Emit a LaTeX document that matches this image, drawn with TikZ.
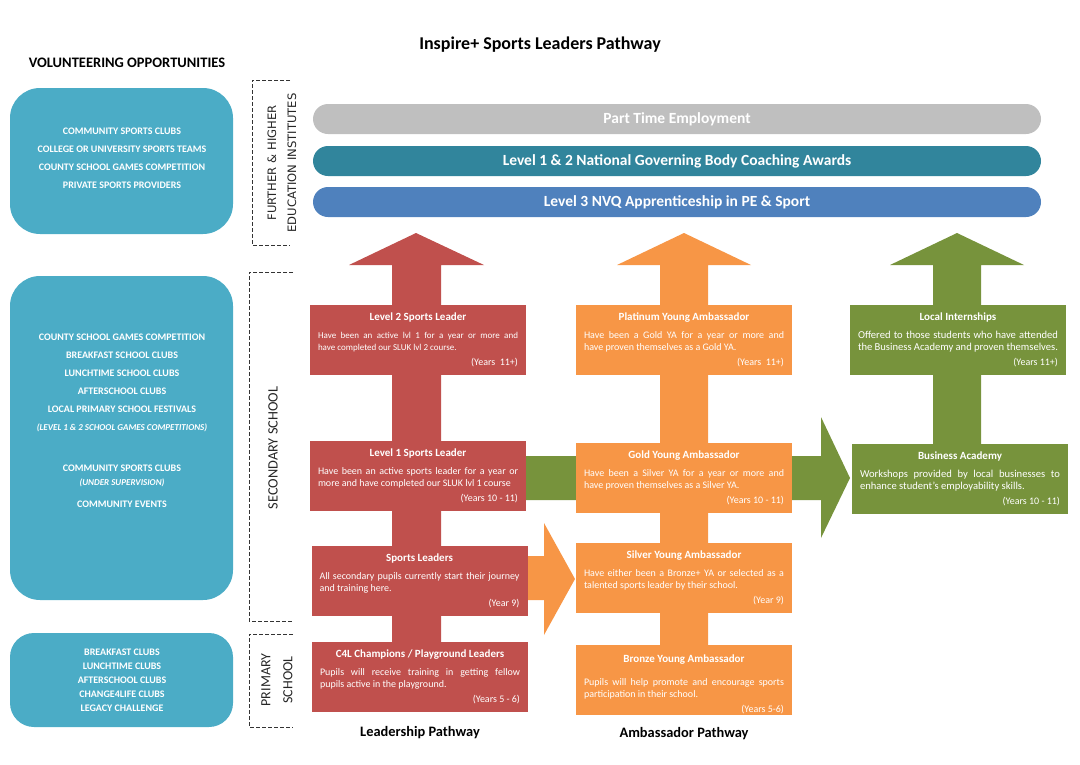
\documentclass[tikz,border=0pt]{standalone}
\usepackage{fontspec}
\setmainfont{Carlito}
\newfontfamily\widefont{DejaVu Sans}
\usetikzlibrary{positioning}
\definecolor{sky1}{HTML}{4BACC6}
\definecolor{grey1}{HTML}{BFBFBF}
\definecolor{teal1}{HTML}{31859C}
\definecolor{blue1}{HTML}{4F81BD}
\definecolor{red1}{HTML}{C0504D}
\definecolor{orange1}{HTML}{F79646}
\definecolor{green1}{HTML}{77933C}
\setlength{\parindent}{0pt}
\newcommand{\stagetext}[3]{%
  {\centering\bfseries\fontsize{11}{12}\selectfont #1\par}\vspace{6pt}%
  #2\par\vspace{3pt}%
  {\raggedleft #3\par}}

\begin{document}
\begin{tikzpicture}[
    x=1pt, y=-1pt,
    volbox/.style={rectangle, rounded corners=30pt, fill=sky1, minimum width=223pt},
    voltext/.style={align=center, text=white, inner sep=0pt, font=\bfseries\fontsize{10}{18}\selectfont},
    bar/.style={rectangle, rounded corners=15pt, fill=#1, minimum width=728pt, minimum height=30pt,
      text=white, font=\bfseries\fontsize{15.5}{18}\selectfont},
    stagebox/.style={rectangle, fill=#1, text=white, minimum width=216pt, minimum height=70pt,
      text width=200pt, inner xsep=8pt, inner ysep=0pt, align=justify,
      font=\fontsize{10}{12}\selectfont},
    sidelabel/.style={rotate=90, align=center, text=black!85, font=\fontsize{14.3}{20}\selectfont},
    bracket/.style={dash pattern=on 4pt off 2pt, line width=0.9pt, black!80},
    pathlabel/.style={font=\bfseries\fontsize{14.4}{16}\selectfont, inner sep=0pt},
  ]
  \useasboundingbox (0,0) rectangle (1080,764);

  % Titles
  \node[font=\bfseries\fontsize{18}{20}\selectfont] (title) at (540,45) {Inspire+ Sports Leaders Pathway};
  \node[font=\bfseries\fontsize{14.5}{16}\selectfont] (voltitle) at (127,63) {VOLUNTEERING OPPORTUNITIES};

  % Volunteering boxes
  \node[volbox, minimum height=146pt] (vol1) at (121.5,161) {};
  \node[voltext] (voltext1) at (122,158) {COMMUNITY SPORTS CLUBS\\COLLEGE OR UNIVERSITY SPORTS TEAMS\\COUNTY SCHOOL GAMES COMPETITION\\PRIVATE SPORTS PROVIDERS};
  \node[volbox, minimum height=324pt] (vol2) at (121.5,438) {};
  \node[voltext] (voltext2) at (122,421) {COUNTY SCHOOL GAMES COMPETITION\\BREAKFAST SCHOOL CLUBS\\LUNCHTIME SCHOOL CLUBS\\AFTERSCHOOL CLUBS\\LOCAL PRIMARY SCHOOL FESTIVALS\\{\itshape\fontsize{9}{18}\selectfont (LEVEL 1 \& 2 SCHOOL GAMES COMPETITIONS)}\\[23pt]COMMUNITY SPORTS CLUBS\\[-4pt]{\itshape\fontsize{9}{18}\selectfont (UNDER SUPERVISION)}\\[4pt]COMMUNITY EVENTS};
  \node[volbox, rounded corners=24pt, minimum height=94pt] (vol3) at (121.5,680) {};
  \node[voltext, font=\bfseries\fontsize{10}{14}\selectfont] (voltext3) at (122,680) {BREAKFAST CLUBS\\LUNCHTIME CLUBS\\AFTERSCHOOL CLUBS\\CHANGE4LIFE CLUBS\\LEGACY CHALLENGE};

  % Stage brackets
  \draw[bracket] (290,80) -| (252,245) -- (290,245);
  \draw[bracket] (293,272) -| (249,621) -- (293,621);
  \draw[bracket] (293,634) -| (249,727) -- (293,727);
  \node[sidelabel, font=\widefont\fontsize{11.6}{20}\selectfont] (further) at (282,163) {FURTHER \& HIGHER\\EDUCATION INSTITUTES};
  \node[sidelabel] (secondary) at (273,448) {SECONDARY SCHOOL};
  \node[sidelabel, font=\fontsize{14}{22}\selectfont] (primary) at (277,680) {PRIMARY\\SCHOOL};

  % Top bars
  \node[bar=grey1] (parttime) at (677,119) {Part Time Employment};
  \node[bar=teal1] (ngb) at (677,161) {Level 1 \& 2 National Governing Body Coaching Awards};
  \node[bar=blue1] (nvq) at (677,202) {Level 3 NVQ Apprenticeship in PE \& Sport};

  % Big arrows
  \fill[red1] (416,233) -- (484,265) -- (441,265) -- (441,650) -- (392,650) -- (392,265) -- (349,265) -- cycle;
  \fill[orange1] (684,233) -- (751,265) -- (708,265) -- (708,650) -- (660,650) -- (660,265) -- (617,265) -- cycle;
  \fill[green1] (957,233) -- (1024,265) -- (981,265) -- (981,450) -- (933,450) -- (933,265) -- (890,265) -- cycle;
  \fill[green1] (520,456) -- (821,456) -- (821,417) -- (850,478) -- (821,538) -- (821,500) -- (520,500) -- cycle;
  \fill[orange1] (520,556) -- (544,556) -- (544,523) -- (575,579) -- (544,635) -- (544,600) -- (520,600) -- cycle;

  % Leadership pathway
  \node[stagebox=red1] (lvl2) at (418,339.5) {\stagetext{Level 2 Sports Leader}{{\fontsize{9}{12}\selectfont Have been an active lvl 1 for a year or more and\linebreak have completed our SLUK lvl 2 course.}}{(Years~~11+)}};
  \node[stagebox=red1] (lvl1) at (418,475.5) {\stagetext{Level 1 Sports Leader}{Have been an active sports leader for a year or\linebreak more and have completed our SLUK lvl 1 course}{(Years 10 - 11)}};
  \node[stagebox=red1] (leaders) at (419.5,580.5) {\stagetext{Sports Leaders}{All secondary pupils currently start their journey\linebreak and training here.}{(Year 9)}};
  \node[stagebox=red1] (c4l) at (420,676.5) {\stagetext{C4L Champions / Playground Leaders}{Pupils will receive training in getting fellow\linebreak pupils active in the playground.}{(Years 5 - 6)}};

  % Ambassador pathway
  \node[stagebox=orange1] (platinum) at (684,339.5) {\stagetext{Platinum Young Ambassador}{Have been a Gold YA for a year or more and\linebreak have proven themselves as a Gold YA.}{(Years~~11+)}};
  \node[stagebox=orange1] (gold) at (684,478) {\stagetext{Gold Young Ambassador}{Have been a Silver YA for a year or more and\linebreak have proven themselves as a Silver YA.}{(Years 10 - 11)}};
  \node[stagebox=orange1] (silver) at (684,578) {\stagetext{Silver Young Ambassador}{Have either been a Bronze+ YA or selected as a\linebreak talented sports leader by their school.}{(Year 9)}};
  \node[stagebox=orange1] (bronze) at (684,680) {\stagetext{Bronze Young Ambassador}{\vspace{5pt}Pupils will help promote and encourage sports\linebreak participation in their school.}{(Years 5-6)}\vspace{-9pt}};

  % Business pathway
  \node[stagebox=green1] (intern) at (958,340) {\stagetext{Local Internships}{{\fontsize{10.6}{12}\selectfont Offered to those students who have attended\linebreak the Business Academy and proven themselves.}}{(Years 11+)}};
  \node[stagebox=green1] (academy) at (960,479) {\stagetext{Business Academy}{{\fontsize{10.6}{12}\selectfont Workshops provided by local businesses to\linebreak enhance student’s employability skills.}}{(Years 10 - 11)}};

  % Pathway labels
  \node[pathlabel, below=14pt of c4l] (leadlabel) {Leadership Pathway};
  \node[pathlabel, below=12pt of bronze] (ambaslabel) {Ambassador Pathway};

\end{tikzpicture}
\end{document}
